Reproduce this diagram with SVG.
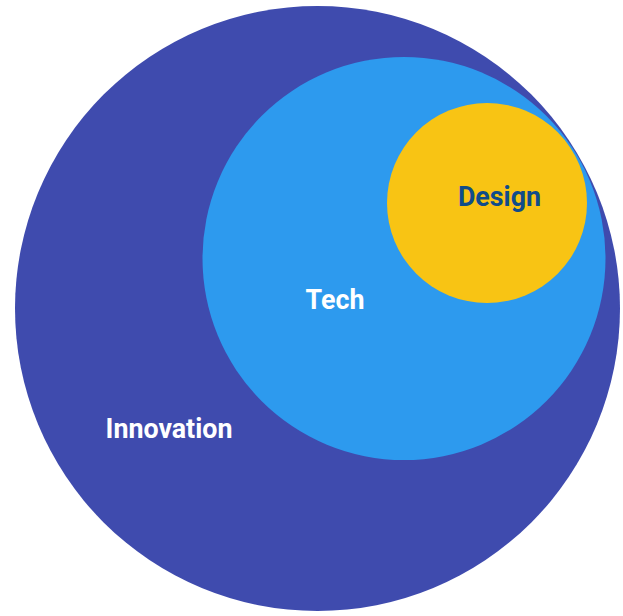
<svg xmlns="http://www.w3.org/2000/svg" width="623" height="616" viewBox="0 0 623 616">
<style>
.lbl{font-family:Roboto,"Liberation Sans",sans-serif;font-weight:bold;font-size:26.8px;text-anchor:middle}
</style>
<rect width="623" height="616" fill="#ffffff"/>
<g id="innovation">
<circle cx="317.5" cy="308.5" r="302.5" fill="#3F4BAE"/>
<text class="lbl" x="169" y="438" fill="#ffffff">Innovation</text>
</g>
<g id="tech">
<circle cx="404" cy="258.5" r="201.5" fill="#2D9AEE"/>
<text class="lbl" x="335" y="309" fill="#ffffff">Tech</text>
</g>
<g id="design">
<circle cx="487" cy="203" r="100" fill="#F8C414"/>
<text class="lbl" x="499.5" y="206" fill="#0F4C8A">Design</text>
</g>
<g id="connectors"/>
</svg>
